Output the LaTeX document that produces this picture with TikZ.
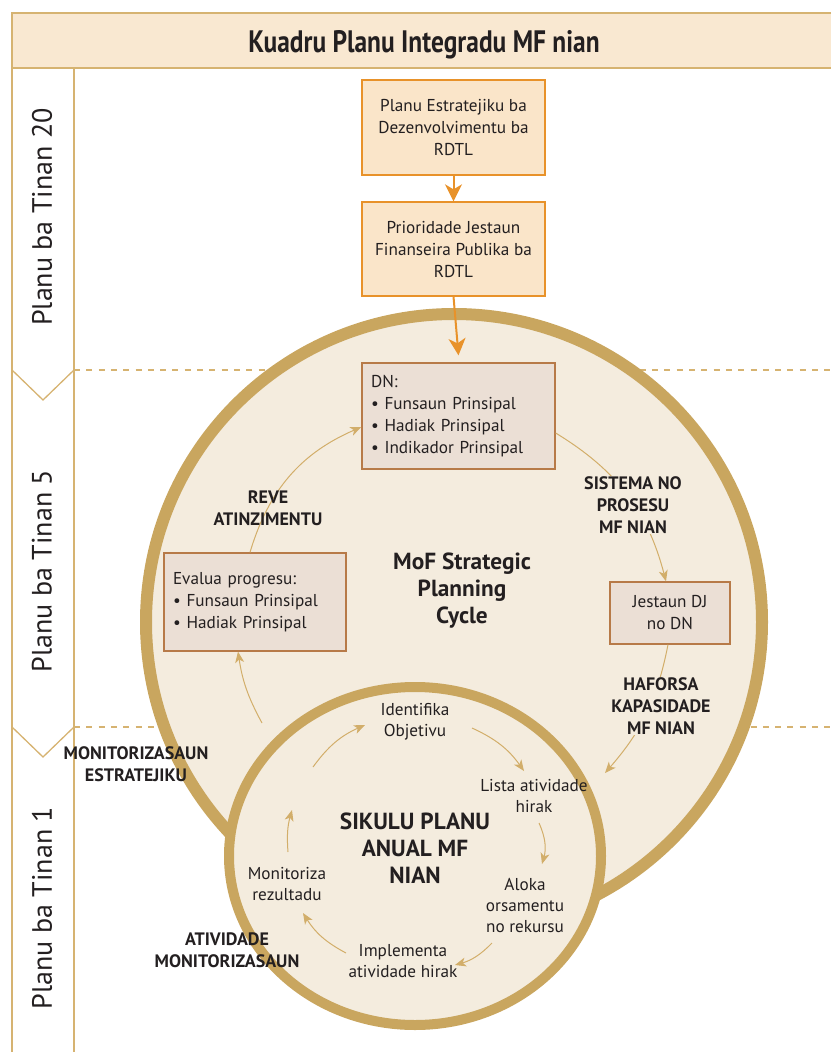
\documentclass[tikz,border=0pt]{standalone}
\usepackage{fontspec}
\setmainfont{PT Sans}
\newfontfamily\titlefont[FakeStretch=0.82]{PT Sans}
\usetikzlibrary{arrows.meta}
\definecolor{ringc}{HTML}{C9A65F}
\definecolor{cream}{HTML}{F4ECDE}
\definecolor{lane}{HTML}{D6B371}
\definecolor{hdrc}{HTML}{F9E8D1}
\definecolor{pboxc}{HTML}{FAE5C9}
\definecolor{orng}{HTML}{E8922A}
\definecolor{bboxc}{HTML}{EBDFD5}
\definecolor{bbord}{HTML}{B77A48}
\definecolor{thinc}{HTML}{D2AE6A}
\definecolor{ink}{HTML}{231F20}
\begin{document}
\begin{tikzpicture}[x=1pt,y=1pt,
  every node/.style={text=ink},
  pbox/.style={draw=orng, fill=pboxc, line width=1.3pt, minimum width=183pt, minimum height=95pt, align=center, font=\fontsize{17.2}{22}\selectfont, inner sep=0pt},
  bbox/.style={draw=bbord, fill=bboxc, line width=1.3pt, inner ysep=0pt, inner xsep=9pt, font=\fontsize{17.2}{22}\selectfont},
  lbl/.style={font=\bfseries\fontsize{18}{22}\selectfont, align=center, inner sep=1pt},
  ctext/.style={font=\fontsize{17.2}{21}\selectfont, align=center, inner sep=0pt},
  bigt/.style={font=\bfseries\fontsize{23.3}{27}\selectfont, align=center},
  thinarr/.style={draw=thinc, line width=1pt, -{Stealth[length=11pt,width=9pt,inset=3pt]}},
  orarr/.style={draw=orng, line width=2pt, -{Stealth[length=17pt,width=17pt,inset=5pt]}},
  rowl/.style={rotate=90, font=\fontsize{28}{30}\selectfont, inner sep=0pt},
  laneln/.style={draw=lane, line width=1.3pt},
  dashln/.style={draw=lane, line width=1.3pt, dash pattern=on 6pt off 6.3pt}
]
\useasboundingbox (0,0) rectangle (831,-1052);

% header
\fill[hdrc] (12,-13) rectangle (831,-68);
\draw[laneln, line width=1.5pt] (831,-13) -- (12,-13) -- (12,-68) -- (831,-68);
\node[anchor=base, font=\titlefont\bfseries\fontsize{31}{34}\selectfont] (title) at (424,-52) {Kuadru Planu Integradu MF nian};

% lanes
\draw[laneln] (12,-68) -- (12,-1052);
\draw[laneln] (74,-68) -- (74,-1052);
\draw[laneln] (12,-370) -- (43,-400) -- (74,-370);
\draw[laneln] (12,-727) -- (43,-757) -- (74,-727);
\draw[dashln] (74,-370) -- (831,-370);
\draw[dashln] (74,-727) -- (831,-727);

\node[rowl] (r20) at (42,-217) {Planu ba Tinan 20};
\node[rowl] (r5) at (42,-571) {Planu ba Tinan 5};
\node[rowl] (r1) at (42,-908) {Planu ba Tinan 1};

% top boxes
\node[pbox] (b1) at (453.5,-127.5) {Planu Estratejiku ba\\Dezenvolvimentu ba\\RDTL};
\node[pbox, minimum height=94pt] (b2) at (453.5,-249) {Prioridade Jestaun\\Finanseira Publika ba\\RDTL};
\draw[orarr] (b1.south) -- (b2.north);

% big circle
\draw[ringc, fill=cream, line width=12pt] (454,-622) circle (308);

% boxes in big circle
\node[bbox, minimum width=193pt, minimum height=106pt, text width=175pt, align=left] (dn) at (458.5,-416)
  {DN:\\\textbullet\ Funsaun Prinsipal\\\textbullet\ Hadiak Prinsipal\\\textbullet\ Indikador Prinsipal};
\draw[orarr] (b2.south) -- ([yshift=7pt]dn.north);
\node[bbox, minimum width=182pt, minimum height=98pt, text width=164pt, align=left] (ev) at (255,-602)
  {Evalua progresu:\\\textbullet\ Funsaun Prinsipal\\\textbullet\ Hadiak Prinsipal};
\node[bbox, minimum width=120pt, minimum height=62pt, inner xsep=0pt, align=center] (jd) at (670,-613)
  {Jestaun DJ\\no DN};

% big cycle arrows
\coordinate (a3e) at (605,-773);
\coordinate (a4s) at (262,-723);
\draw[thinarr] ([xshift=-5pt]ev.north) to[bend left=25] ([yshift=-11pt]dn.west);
\draw[thinarr] ([yshift=-17pt]dn.east) to[bend left=22] ([xshift=-4pt]jd.north);
\draw[thinarr] ([xshift=-2pt]jd.south) to[bend left=15] (a3e);
\draw[thinarr] (a4s) to[bend left=10] ([xshift=-17pt]ev.south);

% small circle
\draw[ringc, fill=cream, line width=10pt] (415,-856) ellipse [x radius=186, y radius=169];

% labels
\node[lbl] (reve) at (268,-508) {REVE\\ATINZIMENTU};
\node[lbl, fill=cream] (sis) at (633,-505) {SISTEMA NO\\PROSESU\\MF NIAN};
\node[lbl, fill=cream] (haf) at (661,-706) {HAFORSA\\KAPASIDADE\\MF NIAN};
\node[lbl] (mon) at (136,-764) {MONITORIZASAUN\\ESTRATEJIKU};
\node[lbl] (ativ) at (227,-950) {ATIVIDADE\\MONITORIZASAUN};
\node[bigt] (mof) at (462,-591) {MoF Strategic\\Planning\\Cycle};
\node[bigt] (sik) at (415,-848) {SIKULU PLANU\\ANUAL MF\\NIAN};

% small cycle
\node[ctext] (idf) at (415,-722) {Identifika\\Objetivu};
\node[ctext] (lst) at (534,-796) {Lista atividade\\hirak};
\node[ctext] (alk) at (525,-905) {Aloka\\orsamentu\\no rekursu};
\node[ctext] (imp) at (403,-961) {Implementa\\atividade hirak};
\node[ctext] (mnt) at (287,-884) {Monitoriza\\rezultadu};

\coordinate (sa1) at (313,-767); \coordinate (sa2) at (365,-725);
\coordinate (sb1) at (472,-728); \coordinate (sb2) at (524,-771);
\coordinate (sc1) at (539,-823); \coordinate (sc2) at (542,-864);
\coordinate (sd1) at (492,-943); \coordinate (sd2) at (455,-965);
\coordinate (se1) at (346,-953); \coordinate (se2) at (303,-913);
\coordinate (sf1) at (288,-852); \coordinate (sf2) at (292,-810);
\draw[thinarr] (sa1) to[bend left=15] (sa2);
\draw[thinarr] (sb1) to[bend left=15] (sb2);
\draw[thinarr] (sc1) to[bend left=20] (sc2);
\draw[thinarr] (sd1) to[bend left=15] (sd2);
\draw[thinarr] (se1) to[bend left=15] (se2);
\draw[thinarr] (sf1) to[bend left=10] (sf2);
\end{tikzpicture}
\end{document}
